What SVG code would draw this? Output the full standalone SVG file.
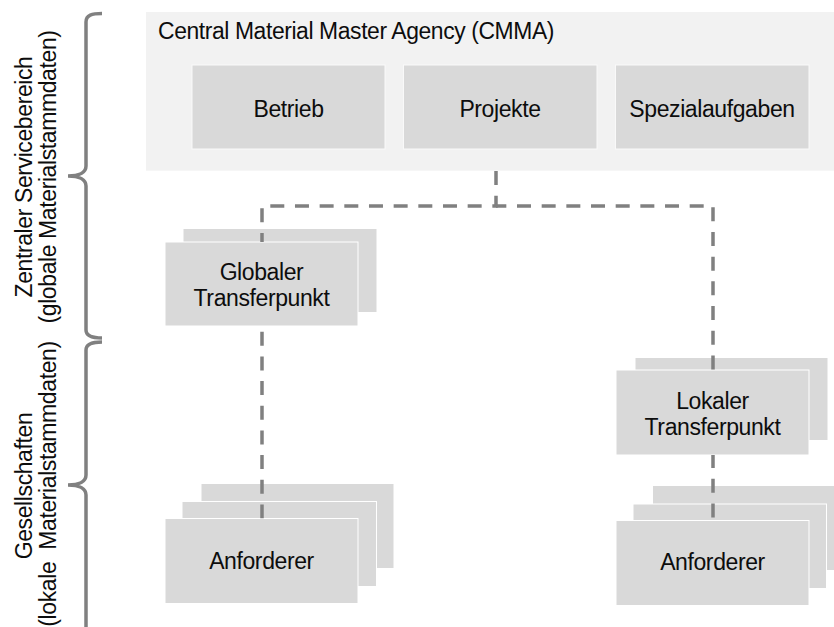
<svg xmlns="http://www.w3.org/2000/svg" width="834" height="627" viewBox="0 0 834 627">
  <style>
    text { font-family: "Liberation Sans", Arial, sans-serif; font-size: 23px; letter-spacing: -0.4px; fill: #0d0d0d; }
    .mid { text-anchor: middle; }
    .agency { fill: #f2f2f2; }
    .box { fill: #d9d9d9; stroke: #ffffff; stroke-width: 1; }
    .unit { fill: #d9d9d9; stroke: #f9f9f9; stroke-width: 1; }
    .brace { fill: none; stroke: #808080; stroke-width: 3.5; stroke-linecap: butt; }
    .link { fill: none; stroke: #808080; stroke-width: 3.5; stroke-dasharray: 14 10.67; }
  </style>
  <defs>
    <!-- hides the connector lines behind the front card of each stack -->
    <mask id="front-cards" maskUnits="userSpaceOnUse" x="0" y="0" width="834" height="627">
      <rect x="0" y="0" width="834" height="627" fill="#fff"/>
      <rect x="165" y="242" width="193" height="84" fill="#000"/>
      <rect x="616" y="370" width="193" height="85" fill="#000"/>
      <rect x="165" y="518.5" width="193" height="85" fill="#000"/>
      <rect x="616" y="520.5" width="193" height="85" fill="#000"/>
    </mask>
  </defs>

  <rect width="834" height="627" fill="#ffffff"/>

  <!-- left-hand braces and area labels -->
  <g id="area-central">
    <path class="brace" d="M102,13.5 C92,13.5 86,15 86,22 L86,166 C86,172 80,176 68,176 C80,176 86,180 86,186 L86,330 C86,336 92,338 102,338"/>
    <text class="mid" transform="translate(32,177) rotate(-90)">Zentraler Servicebereich</text>
    <text class="mid" transform="translate(56,177) rotate(-90)">(globale Materialstammdaten)</text>
  </g>
  <g id="area-companies">
    <path class="brace" d="M102,342 C92,342 86,344 86,350 L86,475 C86,481 80,485 68,485 C80,485 86,489 86,495 L86,630"/>
    <text class="mid" transform="translate(32,486) rotate(-90)">Gesellschaften</text>
    <text class="mid" transform="translate(56,484) rotate(-90)" xml:space="preserve">(lokale  Materialstammdaten)</text>
  </g>

  <!-- CMMA with its three units -->
  <g id="cmma">
    <rect class="agency" x="146" y="12" width="690" height="158.7"/>
    <text x="158" y="39" textLength="396" lengthAdjust="spacingAndGlyphs">Central Material Master Agency (CMMA)</text>
  </g>
  <g id="betrieb">
    <rect class="unit" x="192" y="65" width="193" height="84"/>
    <text class="mid" x="288.5" y="116.5">Betrieb</text>
  </g>
  <g id="projekte">
    <rect class="unit" x="403.5" y="65" width="193.5" height="84"/>
    <text class="mid" x="500" y="116.5">Projekte</text>
  </g>
  <g id="spezialaufgaben">
    <rect class="unit" x="615.5" y="65" width="193.5" height="84"/>
    <text class="mid" x="712" y="116.5">Spezialaufgaben</text>
  </g>

  <!-- transfer points -->
  <g id="globaler-transferpunkt">
    <rect class="box" x="183" y="228.5" width="194" height="84"/>
    <rect class="box" x="165" y="242" width="193" height="84"/>
    <text class="mid" x="261.5" y="279.5">Globaler</text>
    <text class="mid" x="261.5" y="305.5">Transferpunkt</text>
  </g>
  <g id="lokaler-transferpunkt">
    <rect class="box" x="635" y="357.5" width="193" height="83"/>
    <rect class="box" x="616" y="370" width="193" height="85"/>
    <text class="mid" x="712.5" y="408.5">Lokaler</text>
    <text class="mid" x="712.5" y="435">Transferpunkt</text>
  </g>

  <!-- requester stacks -->
  <g id="anforderer-global">
    <rect class="box" x="201" y="483.5" width="193" height="85"/>
    <rect class="box" x="182" y="501.5" width="194.5" height="85"/>
    <rect class="box" x="165" y="518.5" width="193" height="85"/>
    <text class="mid" x="261.5" y="569">Anforderer</text>
  </g>
  <g id="anforderer-lokal">
    <rect class="box" x="652.5" y="485.5" width="193" height="85"/>
    <rect class="box" x="633" y="504" width="193.5" height="84.5"/>
    <rect class="box" x="616" y="520.5" width="193" height="85"/>
    <text class="mid" x="712.5" y="570">Anforderer</text>
  </g>

  <!-- dashed reporting lines -->
  <g id="connectors" mask="url(#front-cards)">
    <path class="link" d="M496,171 V206 H262 V519"/>
    <path class="link" style="stroke-dashoffset:3.67" d="M496,206 H713 V521"/>
  </g>
</svg>
